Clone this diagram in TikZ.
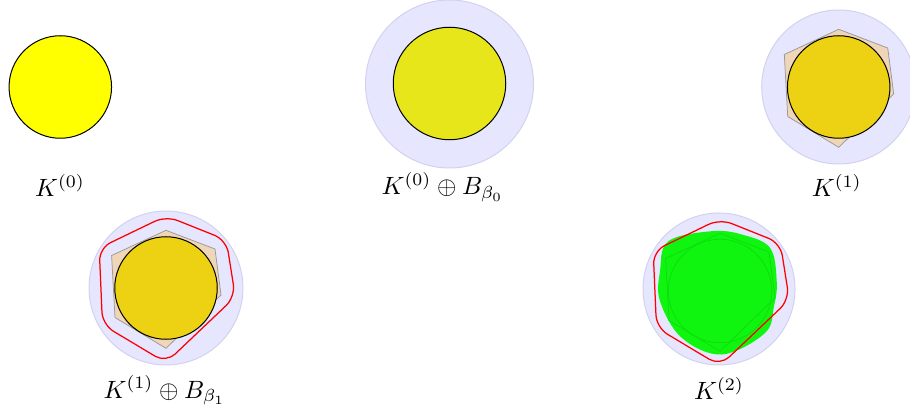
\documentclass[tikz,border=0pt]{standalone}
\definecolor{lav}{RGB}{230,230,255}
\definecolor{lavedge}{RGB}{210,210,238}
\definecolor{tanfill}{RGB}{240,214,184}
\definecolor{gold}{RGB}{237,210,20}
\definecolor{yeltwo}{RGB}{230,230,26}
\definecolor{pureyellow}{RGB}{255,255,0}
\definecolor{grn}{RGB}{16,245,16}
\definecolor{grnedge}{RGB}{12,222,12}
\tikzset{
  halo/.style={fill=lav, draw=lavedge, line width=0.4pt},
  body/.style={draw=black, line width=0.4pt},
  hexa/.style={fill=tanfill, draw=black!40, line width=0.3pt},
  redhull/.style={draw=red, line width=0.5pt, rounded corners=5pt},
  lab/.style={anchor=base, inner sep=0pt},
}
\newcommand\myhexshape{(0,-57.7) -- (49,-39) -- (55,7) -- (0,60.3) -- (-51,29.5) -- (-54.4,-32.5) -- cycle}
\newcommand\myredshape{(0,-72.1) -- (60.3,-48) -- (69.3,8.8) -- (0,74.7) -- (-63.5,36.7) -- (-66.8,-39.9) -- cycle}
\begin{document}
\begin{tikzpicture}[x=0.4pt,y=-0.4pt]
\useasboundingbox (0,0) rectangle (910,412);
% panel 1
\draw[body, fill=pureyellow] (60.3,87) circle[radius=20.5pt];
% panel 2
\draw[halo] (449.5,84) circle[radius=33.6pt];
\draw[body, fill=yeltwo] (449.5,83.5) circle[radius=22.5pt];
% panel 3
\draw[halo] (838.7,87) circle[radius=30.8pt];
\begin{scope}[shift={(838.7,87)}]
  \draw[hexa] \myhexshape;
  \draw[body, fill=gold] (0,0) circle[radius=20.5pt];
\end{scope}
% panel 4
\draw[halo] (166,288) circle[radius=30.8pt];
\begin{scope}[shift={(166,288)}]
  \draw[hexa] \myhexshape;
  \draw[body, fill=gold] (0,0) circle[radius=20.5pt];
  \draw[redhull] \myredshape;
\end{scope}
% panel 5
\draw[halo] (719,289) circle[radius=30.4pt];
\begin{scope}[shift={(720,291)}]
  \fill[grn] plot[smooth cycle, tension=0.6] coordinates {(-51.7,-49.8) (-8.3,-59.8) (21.7,-56.5) (50,-43.2) (56.7,-9.8) (54,15) (45,42) (1.7,63.5) (-38.3,46.8) (-60,10.2) (-60,-19.8)};
  \draw[grnedge, line width=0.3pt] \myhexshape;
  \draw[grnedge, line width=0.3pt] (0,0) circle[radius=20.7pt];
  \draw[redhull] \myredshape;
\end{scope}
% labels
\node[lab] (k0) at (60,196.5) {$K^{(0)}$};
\node[lab] (k0b) at (442.5,195) {$K^{(0)}\oplus B_{\beta_0}$};
\node[lab] (k1) at (836.7,197) {$K^{(1)}$};
\node[lab] (k1b) at (164.5,398) {$K^{(1)}\oplus B_{\beta_1}$};
\node[lab] (k2) at (719,399.5) {$K^{(2)}$};
\end{tikzpicture}
\end{document}
